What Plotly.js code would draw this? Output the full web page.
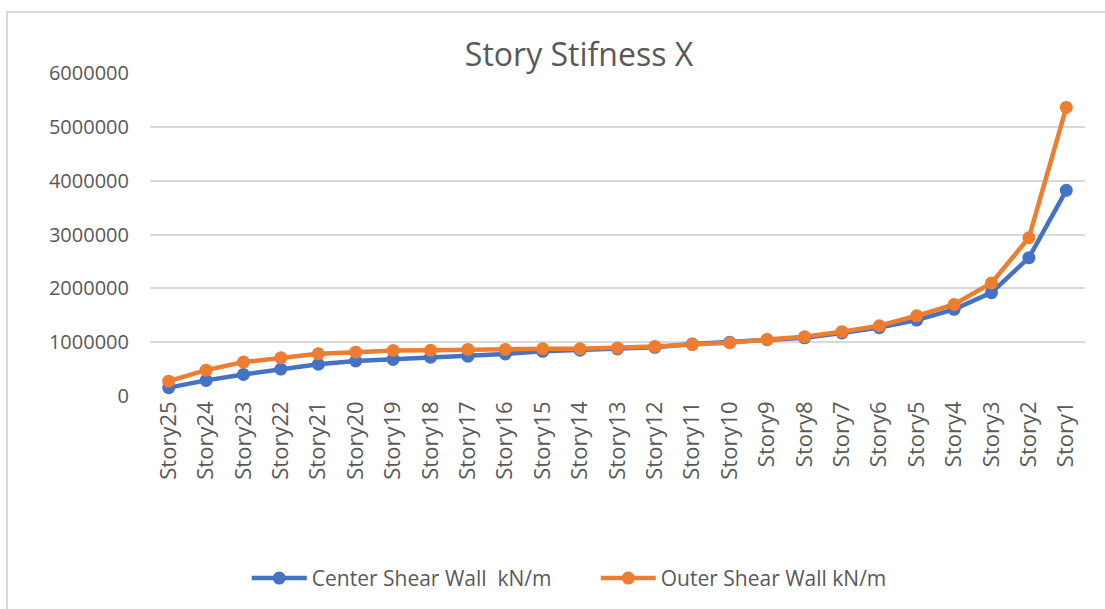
<!DOCTYPE html>
<html>
<head>
<meta charset="utf-8">
<script src="https://cdn.plot.ly/plotly-3.0.1.min.js"></script>
<style>
html,body{margin:0;padding:0;background:#fff;}
#wrap{position:relative;width:1105px;height:609px;overflow:hidden;}
#chart{position:absolute;left:0;top:0;width:1105px;height:609px;}
#frame{position:absolute;left:6px;top:11px;width:1200px;height:700px;border:2px solid #d9d9d9;pointer-events:none;z-index:5;}
</style>
</head>
<body>
<div id="wrap"><div id="chart"></div><div id="frame"></div></div>
<script>
const stories = ["Story25","Story24","Story23","Story22","Story21","Story20","Story19","Story18","Story17","Story16","Story15","Story14","Story13","Story12","Story11","Story10","Story9","Story8","Story7","Story6","Story5","Story4","Story3","Story2","Story1"];
const centerWall = [155000,290000,400000,500000,590000,650000,680000,720000,740000,780000,830000,850000,875000,905000,965000,1000000,1045000,1080000,1170000,1270000,1410000,1610000,1920000,2570000,3820000];
const outerWall = [275000,480000,630000,710000,785000,815000,845000,850000,865000,865000,877000,877000,890000,920000,955000,990000,1050000,1100000,1195000,1305000,1490000,1700000,2100000,2940000,5360000];
const seriesNames = ["Center Shear Wall  kN/m","Outer Shear Wall kN/m"];
const yTicks = [0,1000000,2000000,3000000,4000000,5000000,6000000];

const FONT = '"Open Sans", sans-serif';
const traces = [
  {x: stories, y: centerWall, name: seriesNames[0], type:'scatter', mode:'lines+markers',
   line:{color:'#4472c4', width:4.5}, marker:{color:'#4472c4', size:13}},
  {x: stories, y: outerWall, name: seriesNames[1], type:'scatter', mode:'lines+markers',
   line:{color:'#ed7d31', width:4.5}, marker:{color:'#ed7d31', size:13}}
];
const layout = {
  width:1105, height:609,
  margin:{l:150, r:20, t:73, b:212},
  paper_bgcolor:'#ffffff', plot_bgcolor:'#ffffff',
  title:{text:'Story Stifness X', x:0.524, xanchor:'center', y:0.91, yanchor:'middle',
         font:{family:FONT, size:32, color:'#595959'}},
  font:{family:FONT, color:'#595959'},
  showlegend:true,
  legend:{orientation:'h', x:0.1035, xanchor:'left', y:-0.56, yanchor:'middle',
          font:{family:FONT, size:21, color:'#595959'}, entrywidth:279, entrywidthmode:'pixels',
          itemwidth:55, traceorder:'normal'},
  xaxis:{type:'category', range:[-0.5,24.5], tickangle:-90, showgrid:false, zeroline:false, showline:false,
         ticks:'', tickfont:{family:FONT, size:22, color:'#595959'}, automargin:false},
  yaxis:{range:[0,6000000], tickvals:yTicks, ticktext:yTicks.map(String),
         showgrid:true, gridcolor:'#d9d9d9', gridwidth:2, zeroline:false, showline:false,
         ticks:'', ticklen:0, ticklabelstandoff:20, tickfont:{family:FONT, size:20, color:'#595959'}, automargin:false}
};
Plotly.newPlot('chart', traces, layout, {displayModeBar:false, staticPlot:true});
</script>
</body>
</html>
